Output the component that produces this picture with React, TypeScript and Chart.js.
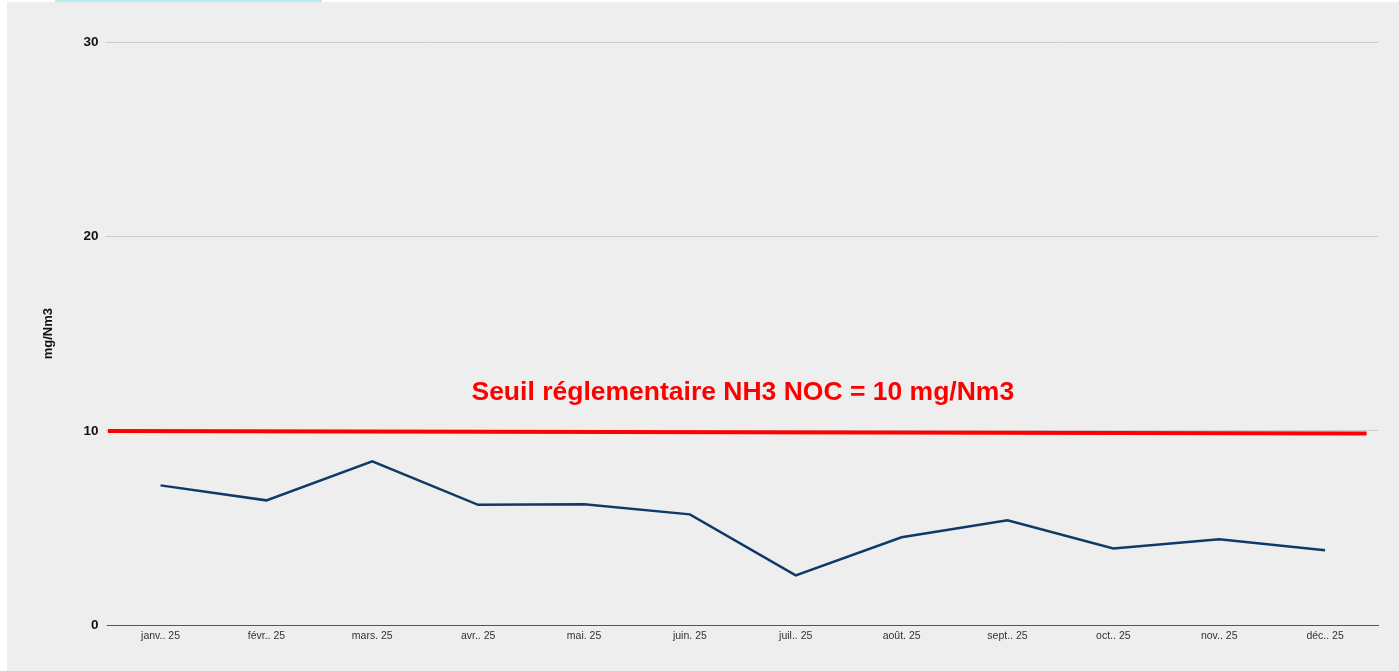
import React, { useEffect, useRef } from "react";
import { Chart, registerables } from "chart.js";

Chart.register(...registerables);

const categories = [
  "janv.. 25", "févr.. 25", "mars. 25", "avr.. 25", "mai. 25", "juin. 25",
  "juil.. 25", "août. 25", "sept.. 25", "oct.. 25", "nov.. 25", "déc.. 25",
];
const nh3Values = [7.2, 6.43, 8.44, 6.2, 6.23, 5.71, 2.57, 4.53, 5.4, 3.96, 4.43, 3.86];
const thresholdX = [0.0, 0.991];
const thresholdY = [10, 9.87];
const thresholdLabel = "Seuil réglementaire NH3 NOC = 10 mg/Nm3";
const thresholdLabelValue = 11.95;
const yTicks = [0, 10, 20, 30];
const yTitle = "mg/Nm3";

const labelPlugin = {
  id: "thresholdLabel",
  afterDatasetsDraw(chart: any) {
    const { ctx, chartArea, scales } = chart;
    const x = (chartArea.left + chartArea.right) / 2;
    const y = scales.y.getPixelForValue(thresholdLabelValue);
    ctx.save();
    ctx.font = "bold 26.5px 'Liberation Sans', Arial, sans-serif";
    ctx.fillStyle = "#ff0000";
    ctx.textAlign = "center";
    ctx.textBaseline = "middle";
    ctx.fillText(thresholdLabel, x, y);
    ctx.restore();
  },
};

export default function App() {
  const ref = useRef<HTMLCanvasElement | null>(null);
  useEffect(() => {
    if (!ref.current) return;
    const chart = new Chart(ref.current, {
      type: "line",
      data: {
        labels: categories,
        datasets: [
          {
            label: "NH3",
            data: nh3Values,
            borderColor: "#0f3a68",
            borderWidth: 2.5,
            pointRadius: 0,
            tension: 0,
            xAxisID: "x",
          },
          {
            label: "Seuil",
            data: thresholdX.map((x, i) => ({ x, y: thresholdY[i] })) as any,
            borderColor: "#ff0000",
            borderWidth: 4,
            pointRadius: 0,
            xAxisID: "x2",
          },
        ],
      },
      options: {
        animation: false,
        responsive: false,
        maintainAspectRatio: false,
        layout: { padding: { top: 40, right: 21, bottom: 25, left: 34 } },
        plugins: { legend: { display: false }, tooltip: { enabled: false } },
        scales: {
          x: {
            type: "category",
            offset: true,
            grid: { display: false, drawTicks: false },
            border: { display: true, color: "#555555", width: 1 },
            ticks: {
              color: "#333333",
              font: { family: "'Liberation Sans', Arial, sans-serif", size: 10.5 },
              maxRotation: 0,
              autoSkip: false,
              padding: 4,
            },
          },
          x2: {
            type: "linear",
            display: false,
            min: 0,
            max: 1,
          },
          y: {
            min: 0,
            max: 30,
            afterBuildTicks: (axis: any) => {
              axis.ticks = yTicks.map((v) => ({ value: v }));
            },
            grid: { color: "#cccccc", lineWidth: 1, tickLength: 2 },
            border: { display: false },
            ticks: {
              color: "#111111",
              font: { family: "'Liberation Sans', Arial, sans-serif", size: 13.5, weight: "bold" },
              padding: 7,
            },
            title: {
              display: true,
              text: yTitle,
              color: "#111111",
              font: { family: "'Liberation Sans', Arial, sans-serif", size: 13, weight: "bold" },
              padding: { top: 0, bottom: 20 },
            },
          },
        },
      },
      plugins: [labelPlugin],
    } as any);
    return () => chart.destroy();
  }, []);
  return (
    <div style={{ position: "absolute", left: 0, top: 0, width: 1399, height: 671, background: "#ffffff" }}>
      <div style={{ position: "absolute", left: 55, top: 0, width: 267, height: 2, background: "#b8ecf3" }} />
      <div style={{ position: "absolute", left: 7, top: 2, width: 1392, height: 669, background: "#eeeeee" }}>
        <canvas ref={ref} width={1392} height={669} style={{ display: "block" }} />
      </div>
    </div>
  );
}
